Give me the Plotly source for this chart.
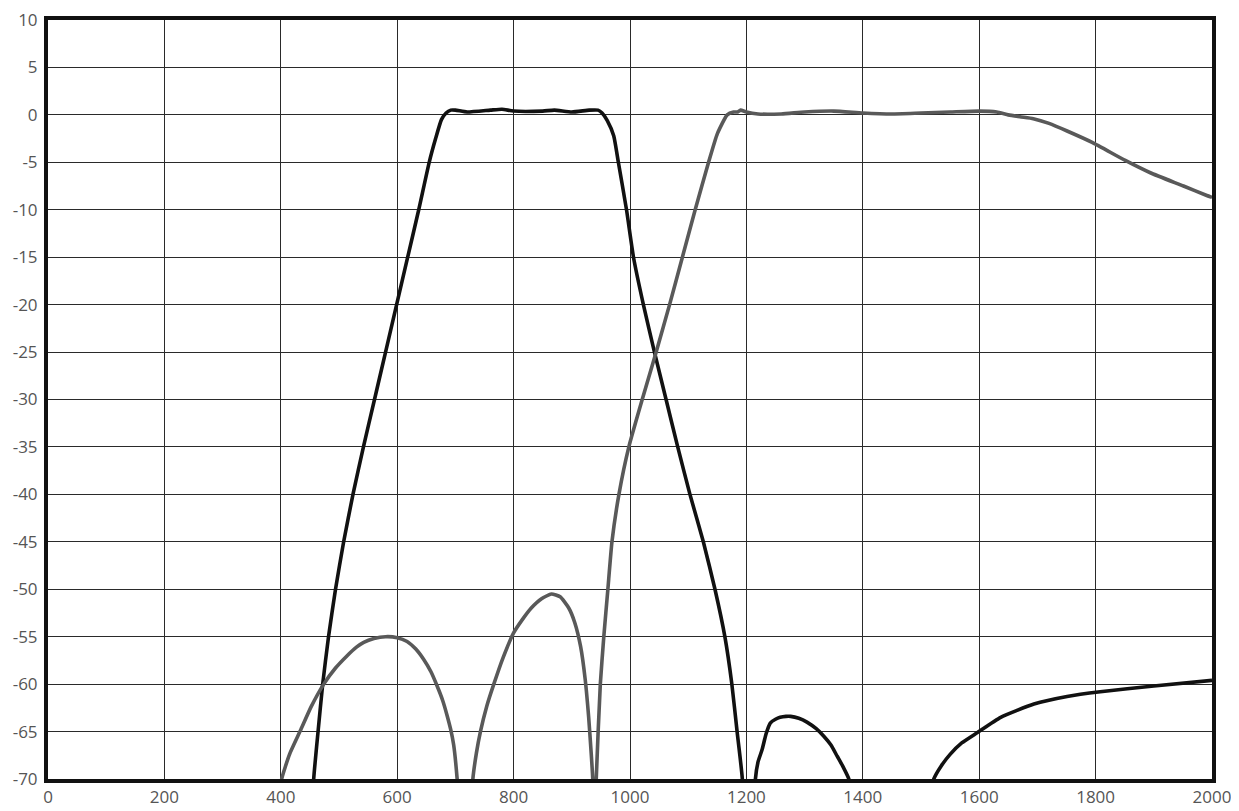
import plotly.graph_objects as go

# Black curve (bandpass filter 1)
black_x = [450, 456.5, 464, 472, 482, 494, 508, 524, 542, 561, 580, 599, 618, 637, 655, 666, 676, 684, 692,
           700, 720, 760, 780, 800, 850, 870, 900, 930, 945, 952,
           961, 972, 980, 994, 1006, 1023, 1042, 1062, 1082, 1103, 1126, 1146, 1163, 1175, 1184, 1193, 1196]
black_y = [-78, -70, -65, -60, -55, -50, -45, -40, -35, -30, -25, -20, -15, -10, -5, -2.5, -0.5, 0.2, 0.5,
           0.5, 0.3, 0.5, 0.6, 0.4, 0.4, 0.5, 0.3, 0.5, 0.5, 0.2,
           -0.6, -2.2, -5, -10, -15, -20, -25, -30, -35, -40, -45, -50, -55, -60, -65, -70, -78]

black_lobe_x = [1212, 1215.5, 1220, 1227, 1234, 1241, 1250, 1258, 1268, 1276, 1290, 1304, 1320, 1333, 1345, 1356, 1366, 1376, 1380]
black_lobe_y = [-78, -70, -68.2, -66.9, -65.2, -64.1, -63.7, -63.5, -63.4, -63.4, -63.6, -64.0, -64.7, -65.5, -66.4, -67.6, -68.7, -70, -72]

black_tail_x = [1515, 1522, 1535, 1550, 1570, 1597, 1637, 1694, 1751, 1808, 1900, 2000]
black_tail_y = [-72, -70, -68.6, -67.4, -66.2, -65.1, -63.5, -62.1, -61.3, -60.8, -60.2, -59.6]

# Gray curve (bandpass filter 2)
gray_x = [398, 401.5, 415, 433.7, 452, 473.8, 494, 514, 530, 542.5, 560, 580, 600, 617, 632, 645.6, 658, 668.6,
          678, 685.7, 692, 697, 703, 705]
gray_y = [-72, -70, -67.4, -64.9, -62.4, -60, -58.3, -57, -56.1, -55.6, -55.2, -55, -55.1, -55.5, -56.3, -57.4, -58.7, -60.2,
          -61.7, -63.3, -64.8, -66.4, -70, -72]

gray2_x = [727, 730, 736, 743, 754, 766, 782, 800, 815, 830, 848, 865, 880, 895, 905, 915, 923, 929, 933, 936, 937.5,
           940, 942, 949, 955, 962, 969, 981, 998, 1021, 1045, 1068, 1090, 1112, 1135, 1150, 1167, 1178, 1185, 1190,
           1200, 1220, 1260, 1300, 1350, 1400, 1450, 1500, 1550, 1600, 1630, 1650, 1670, 1693, 1720, 1751, 1794,
           1851, 1894, 1951, 1991, 2000]
gray2_y = [-74, -70, -67.3, -65, -62.3, -60, -57.2, -54.6, -53.2, -52, -51, -50.5, -50.8, -52, -53.5, -56, -59.5, -63.5, -67, -70, -76,
           -76, -70, -60, -55, -50, -45, -40, -35, -30, -25, -20, -15, -10, -5, -2, 0, 0.3, 0.3, 0.5,
           0.3, 0.1, 0.1, 0.3, 0.4, 0.2, 0.1, 0.2, 0.3, 0.4, 0.3, 0.0, -0.2, -0.4, -0.9, -1.7, -2.9,
           -4.8, -6.1, -7.5, -8.5, -8.7]

x_ticks = list(range(0, 2001, 200))
y_ticks = list(range(-70, 11, 5))

BLACK = "#111111"
GRAY = "#595959"

fig = go.Figure()
for xs, ys in [(black_x, black_y), (black_lobe_x, black_lobe_y), (black_tail_x, black_tail_y)]:
    fig.add_trace(go.Scatter(x=xs, y=ys, mode="lines", line=dict(color=BLACK, width=3.6, shape="spline", smoothing=0.5),
                             hoverinfo="skip", showlegend=False))
for xs, ys in [(gray_x, gray_y), (gray2_x, gray2_y)]:
    fig.add_trace(go.Scatter(x=xs, y=ys, mode="lines", line=dict(color=GRAY, width=3.6, shape="spline", smoothing=0.5),
                             hoverinfo="skip", showlegend=False))

axis_common = dict(
    showgrid=True, gridcolor="#2a2a2a", gridwidth=1.3,
    showline=True, linecolor="#111111", linewidth=4, mirror=True,
    zeroline=False, ticks="", automargin=False, ticklabeloverflow="allow",
    tickfont=dict(family="Open Sans, Noto Sans, sans-serif", size=17, color="#555555"),
)

# the page adds an 8px body margin, so the figure is sized to fit inside it
fig.update_layout(
    width=1231, height=803,
    margin=dict(l=40, r=27, t=12, b=32),
    paper_bgcolor="white", plot_bgcolor="white",
    xaxis=dict(range=[0, 2000], tickvals=x_ticks, ticktext=[str(v) for v in x_ticks], **axis_common),
    yaxis=dict(range=[-70, 10], tickvals=y_ticks, ticktext=[str(v) for v in y_ticks], **axis_common),
)
fig.update_xaxes(ticklabelstandoff=0)
fig.update_yaxes(ticklabelstandoff=3)

fig.write_html("out.html")
